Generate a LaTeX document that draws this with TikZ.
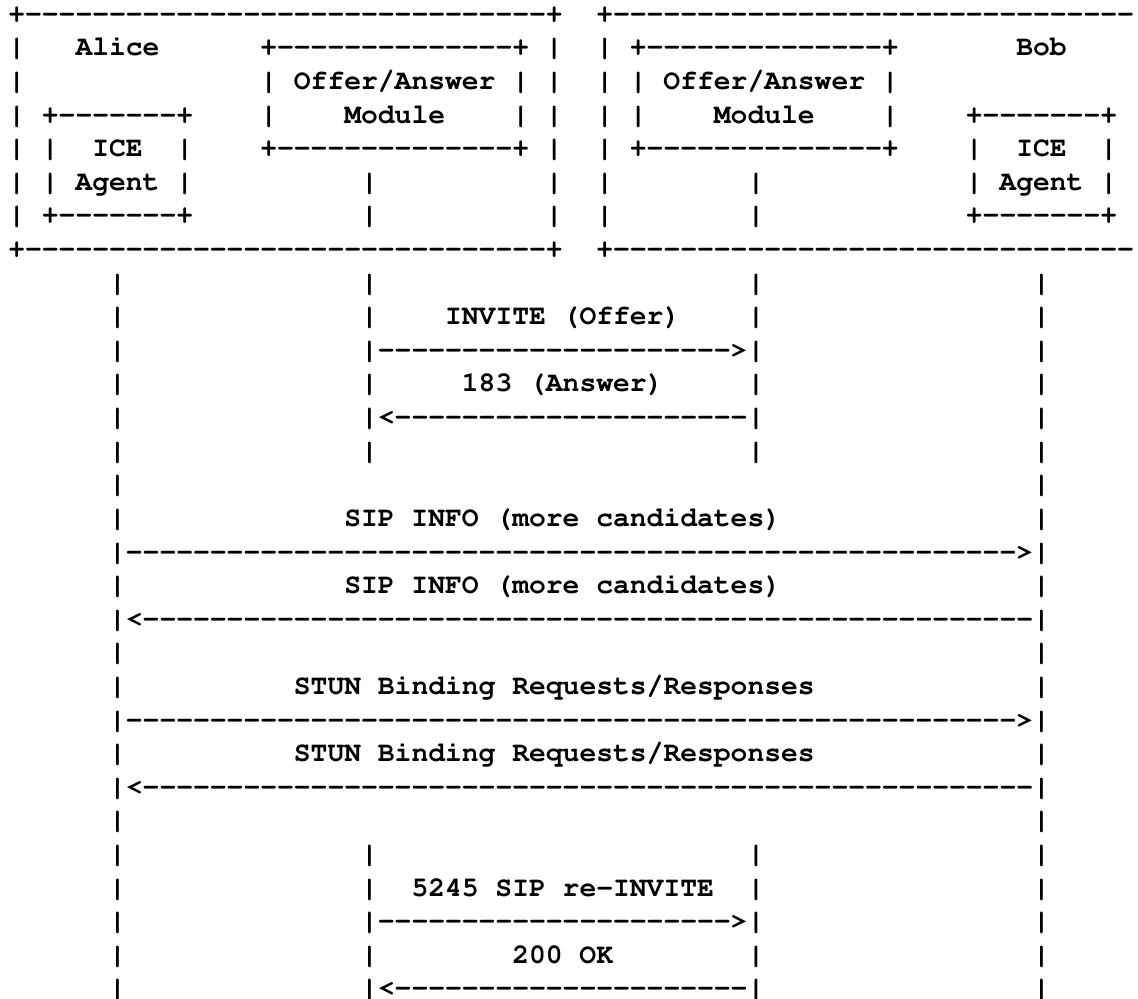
\documentclass[tikz,border=0pt]{standalone}
\usepackage[T1]{fontenc}
\usepackage{fontspec}
\setmonofont{Liberation Mono}
\ExplSyntaxOn
\newcommand\dsh[1]{\prg_replicate:nn{#1}{-\kern0pt}}
\ExplSyntaxOff
\tikzset{ch/.style={anchor=base west, inner sep=0pt, outer sep=0pt, text=black,
  font=\fontencoding{T1}\fontfamily{pcr}\fontseries{b}\fontshape{n}\fontsize{14pt}{16.8pt}\selectfont}}
% #1 = row, #2 = column, #3 = text
\newcommand\T[3]{\node[ch] (t#1c#2) at ({8.3+16.8*#2},{22.4+33.6*#1}) {#3};}
\begin{document}
\begin{tikzpicture}[x=0.5pt,y=-0.5pt]
\useasboundingbox (0,0) rectangle (1138,999);
\fill[white] (0,0) rectangle (1138,999);
\clip (0,0) rectangle (1138,999);
% ---- top boxes (the right box runs past the right edge of the picture)
\T{0}{0}{+\dsh{31}+} \T{0}{35}{+\dsh{31}}
\T{1}{0}{|} \T{1}{4}{Alice} \T{1}{15}{+\dsh{14}+} \T{1}{32}{|} \T{1}{35}{|} \T{1}{37}{+\dsh{14}+} \T{1}{60}{Bob}
\T{2}{0}{|} \T{2}{15}{| Offer/Answer |} \T{2}{32}{|} \T{2}{35}{|} \T{2}{37}{| Offer/Answer |}
\T{3}{0}{|} \T{3}{2}{+\dsh{7}+} \T{3}{15}{|} \T{3}{20}{Module} \T{3}{30}{|} \T{3}{32}{|} \T{3}{35}{|} \T{3}{37}{|} \T{3}{42}{Module} \T{3}{52}{|} \T{3}{57}{+\dsh{7}+}
\T{4}{0}{|} \T{4}{2}{|} \T{4}{5}{ICE} \T{4}{10}{|} \T{4}{15}{+\dsh{14}+} \T{4}{32}{|} \T{4}{35}{|} \T{4}{37}{+\dsh{14}+} \T{4}{57}{|} \T{4}{60}{ICE} \T{4}{65}{|}
\T{5}{0}{|} \T{5}{2}{| Agent |} \T{5}{21}{|} \T{5}{32}{|} \T{5}{35}{|} \T{5}{44}{|} \T{5}{57}{| Agent |}
\T{6}{0}{|} \T{6}{2}{+\dsh{7}+} \T{6}{21}{|} \T{6}{32}{|} \T{6}{35}{|} \T{6}{44}{|} \T{6}{57}{+\dsh{7}+}
\T{7}{0}{+\dsh{31}+} \T{7}{35}{+\dsh{31}}
% ---- outer lifelines
\foreach \ri in {8,...,15,17,19,20,22,24,25,26,27,28,29}{\T{\ri}{6}{|} \T{\ri}{61}{|}}
% ---- inner lifelines
\foreach \ri in {8,9,11,13,25,26,28}{\T{\ri}{21}{|} \T{\ri}{44}{|}}
% ---- messages
\T{9}{26}{INVITE (Offer)}
\T{10}{21}{|\dsh{21}>|}
\T{11}{27}{183 (Answer)}
\T{12}{21}{|<\dsh{21}|}
\T{15}{20}{SIP INFO (more candidates)}
\T{16}{6}{|\dsh{53}>|}
\T{17}{20}{SIP INFO (more candidates)}
\T{18}{6}{|<\dsh{53}|}
\T{20}{17}{STUN Binding Requests/Responses}
\T{21}{6}{|\dsh{53}>|}
\T{22}{17}{STUN Binding Requests/Responses}
\T{23}{6}{|<\dsh{53}|}
\T{26}{24}{5245 SIP re-INVITE}
\T{27}{21}{|\dsh{21}>|}
\T{28}{30}{200 OK}
\T{29}{21}{|<\dsh{21}|}
\end{tikzpicture}
\end{document}
